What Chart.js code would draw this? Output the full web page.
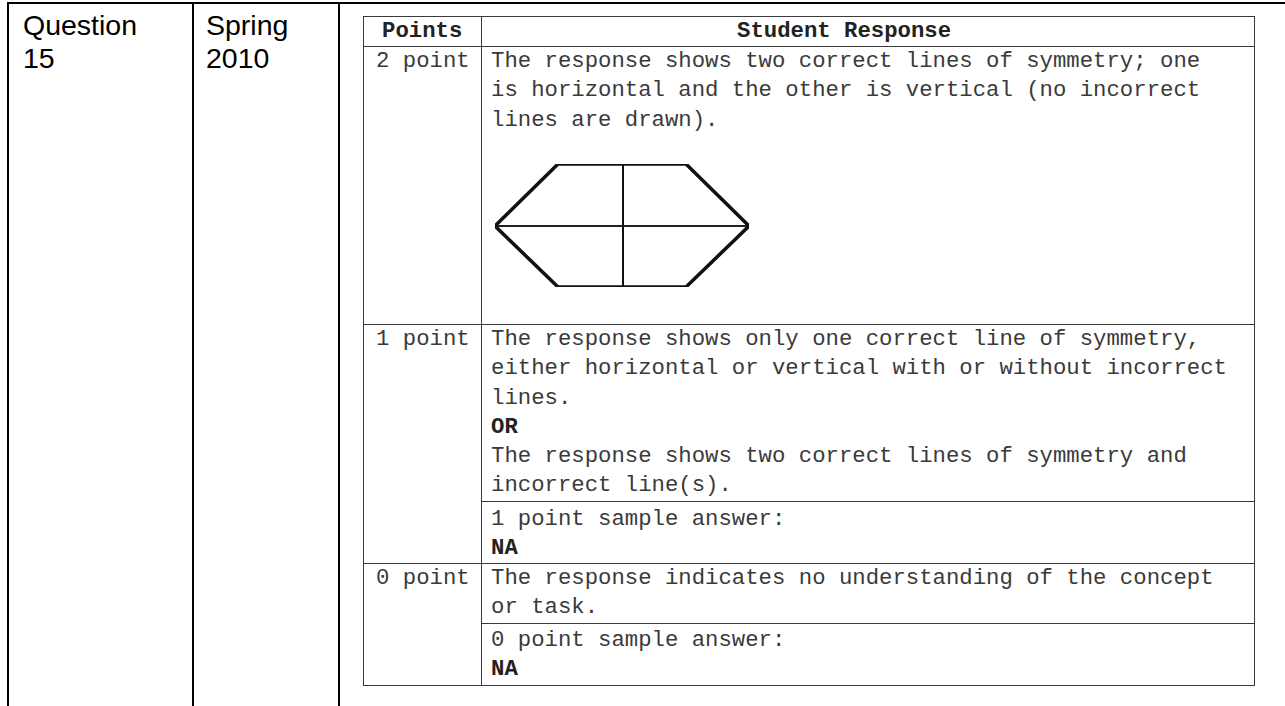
<!DOCTYPE html>
<html>
<head>
<meta charset="utf-8">
<script src="https://cdn.jsdelivr.net/npm/chart.js"></script>
<style>
  html, body { margin: 0; padding: 0; background: #fff; }
  #page { position: relative; width: 1285px; height: 706px; overflow: hidden; }
  .rule { position: absolute; background: #000; }
  .thin { position: absolute; background: #3a3a3a; }
  .sans { position: absolute; font-family: "Liberation Sans", Arial, sans-serif; font-size: 28.5px; line-height: 33px; color: #000; }
  .mono { position: absolute; font-family: "Courier New", "Liberation Mono", monospace; font-size: 22.3px; line-height: 29.3px; color: #3a3a3a; white-space: pre; }
  .mono b { font-weight: bold; color: #222; }
  #hexWrap { position: absolute; left: 485px; top: 154px; width: 274px; height: 143px; }
</style>
</head>
<body>
<div id="page">
  <!-- outer grid -->
  <div class="rule" style="left:7px; top:2px; width:1278px; height:2px;"></div>
  <div class="rule" style="left:7px; top:2px; width:2px; height:704px;"></div>
  <div class="rule" style="left:192px; top:2px; width:2px; height:704px;"></div>
  <div class="rule" style="left:338px; top:2px; width:2px; height:704px;"></div>

  <div class="sans" style="left:23px; top:9px;">Question<br>15</div>
  <div class="sans" style="left:206px; top:9px;">Spring<br>2010</div>

  <!-- inner rubric table -->
  <div class="thin" style="left:363px; top:16px; width:892px; height:1px;"></div>
  <div class="thin" style="left:363px; top:46px; width:892px; height:1px;"></div>
  <div class="thin" style="left:363px; top:324px; width:892px; height:1px;"></div>
  <div class="thin" style="left:481px; top:501px; width:774px; height:1px;"></div>
  <div class="thin" style="left:363px; top:563px; width:892px; height:1px;"></div>
  <div class="thin" style="left:481px; top:623px; width:774px; height:1px;"></div>
  <div class="thin" style="left:363px; top:685px; width:892px; height:1px;"></div>
  <div class="thin" style="left:363px; top:16px; width:1px; height:670px;"></div>
  <div class="thin" style="left:481px; top:16px; width:1px; height:670px;"></div>
  <div class="thin" style="left:1254px; top:16px; width:1px; height:670px;"></div>

  <div class="mono" style="left:382px; top:17px;"><b>Points</b></div>
  <div class="mono" style="left:737px; top:17px;"><b>Student Response</b></div>

  <div class="mono" style="left:376px; top:47px;">2 point</div>
  <div class="mono" style="left:491px; top:47px;">The response shows two correct lines of symmetry; one
is horizontal and the other is vertical (no incorrect
lines are drawn).</div>

  <div class="mono" style="left:376px; top:325px;">1 point</div>
  <div class="mono" style="left:491px; top:325px;">The response shows only one correct line of symmetry,
either horizontal or vertical with or without incorrect
lines.
<b>OR</b>
The response shows two correct lines of symmetry and
incorrect line(s).</div>
  <div class="mono" style="left:491px; top:505px;">1 point sample answer:
<b>NA</b></div>

  <div class="mono" style="left:376px; top:564px;">0 point</div>
  <div class="mono" style="left:491px; top:564px;">The response indicates no understanding of the concept
or task.</div>
  <div class="mono" style="left:491px; top:626px;">0 point sample answer:
<b>NA</b></div>

  <div id="hexWrap"><canvas id="hex" width="274" height="143"></canvas></div>
</div>

<script>
// shape of the 2-point sample answer, in drawing units (y grows downward)
const hexX = [63, 191, 254, 191, 63, 0, 63];
const hexY = [0, 0, 62, 123, 123, 62, 0];
const vertX = [128, 128];
const vertY = [0, 123];
const horizX = [0, 254];
const horizY = [62, 62];

function pts(xs, ys) {
  return xs.map((x, i) => ({ x: x, y: ys[i] }));
}

const ctx = document.getElementById('hex').getContext('2d');
new Chart(ctx, {
  type: 'scatter',
  data: {
    datasets: [
      { label: 'hexagon', data: pts(hexX, hexY), showLine: true, borderColor: '#111', borderWidth: 3.5, pointRadius: 0, borderJoinStyle: 'miter' },
      { label: 'vertical', data: pts(vertX, vertY), showLine: true, borderColor: '#111', borderWidth: 2, pointRadius: 0 },
      { label: 'horizontal', data: pts(horizX, horizY), showLine: true, borderColor: '#222', borderWidth: 2, pointRadius: 0 }
    ]
  },
  options: {
    responsive: false,
    animation: false,
    devicePixelRatio: 1,
    layout: { padding: 10 },
    scales: {
      x: { type: 'linear', min: 0, max: 254, display: false },
      y: { type: 'linear', min: 0, max: 123, reverse: true, display: false }
    },
    plugins: { legend: { display: false }, tooltip: { enabled: false } }
  }
});
</script>
</body>
</html>
